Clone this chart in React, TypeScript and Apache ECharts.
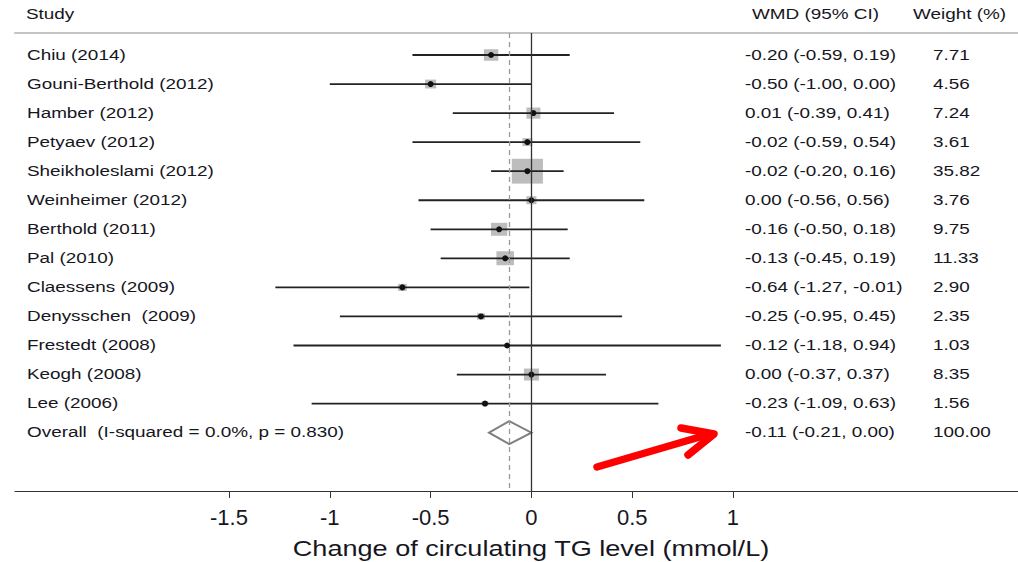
import React, { useEffect, useRef } from "react";
import * as echarts from "echarts";

// Study-level weighted mean differences (mmol/L) with 95% CI and weights
const studies = [
  "Chiu (2014)",
  "Gouni-Berthold (2012)",
  "Hamber (2012)",
  "Petyaev (2012)",
  "Sheikholeslami (2012)",
  "Weinheimer (2012)",
  "Berthold (2011)",
  "Pal (2010)",
  "Claessens (2009)",
  "Denysschen  (2009)",
  "Frestedt (2008)",
  "Keogh (2008)",
  "Lee (2006)",
];
const wmd = [-0.2, -0.5, 0.01, -0.02, -0.02, 0.0, -0.16, -0.13, -0.64, -0.25, -0.12, 0.0, -0.23];
const lower = [-0.59, -1.0, -0.39, -0.59, -0.2, -0.56, -0.5, -0.45, -1.27, -0.95, -1.18, -0.37, -1.09];
const upper = [0.19, 0.0, 0.41, 0.54, 0.16, 0.56, 0.18, 0.19, -0.01, 0.45, 0.94, 0.37, 0.63];
const weights = [7.71, 4.56, 7.24, 3.61, 35.82, 3.76, 9.75, 11.33, 2.9, 2.35, 1.03, 8.35, 1.56];

// Pooled estimate
const overallLabel = "Overall  (I-squared = 0.0%, p = 0.830)";
const overallWmd = -0.11;
const overallLower = -0.21;
const overallUpper = 0.0;
const overallWeight = 100.0;

const tickValues = [-1.5, -1, -0.5, 0, 0.5, 1];
const axisTitle = "Change of circulating TG level (mmol/L)";

const FONT = "'Liberation Sans', Arial, Helvetica, sans-serif";
const TEXT = "#16161e";
const STRETCH = 1.26;

const fmt = (v: number) => v.toFixed(2);

export default function App() {
  const ref = useRef<HTMLDivElement>(null);

  useEffect(() => {
    if (!ref.current) return;
    const chart = echarts.init(ref.current, undefined, { renderer: "svg" });

    const rows = studies.map((s, i) => [i, wmd[i], lower[i], upper[i], weights[i]]);
    const overallIdx = studies.length;

    const textRows = studies.map((s, i) => ({
      value: [i],
      name: s,
      ci: `${fmt(wmd[i])} (${fmt(lower[i])}, ${fmt(upper[i])})`,
      w: fmt(weights[i]),
    }));
    textRows.push({
      value: [overallIdx],
      name: overallLabel,
      ci: `${fmt(overallWmd)} (${fmt(overallLower)}, ${fmt(overallUpper)})`,
      w: fmt(overallWeight),
    });

    const txt = (text: string, x: number, y: number, size = 15, align = "left") => ({
      type: "text",
      x,
      y,
      scaleX: STRETCH,
      style: {
        text,
        x: 0,
        y: 0,
        fill: TEXT,
        fontSize: size,
        fontFamily: FONT,
        align,
        verticalAlign: "middle",
      },
    });

    chart.setOption({
      animation: false,
      backgroundColor: "#ffffff",
      grid: { left: 15, right: 0, top: 33, bottom: 71 },
      xAxis: [
        {
          type: "value",
          min: -2.5615,
          max: 2.4137,
          position: "bottom",
          splitLine: { show: false },
          axisLine: { show: true, onZero: false, lineStyle: { color: "#333", width: 1 } },
          axisTick: {
            show: true,
            customValues: tickValues,
            length: 7,
            lineStyle: { color: "#333", width: 1 },
          },
          axisLabel: {
            customValues: tickValues,
            margin: 15,
            fontSize: 22,
            fontFamily: FONT,
            color: TEXT,
            formatter: (v: number) => String(v),
          },
        },
        {
          type: "value",
          min: -2.5615,
          max: 2.4137,
          position: "top",
          splitLine: { show: false },
          axisLine: { show: true, onZero: false, lineStyle: { color: "#c4c4c4", width: 2 } },
          axisTick: { show: false },
          axisLabel: { show: false },
        },
      ],
      yAxis: {
        type: "value",
        min: -0.757,
        max: 15.009,
        inverse: true,
        show: false,
      },
      series: [
        {
          type: "custom",
          name: "studies",
          xAxisIndex: 0,
          data: rows,
          z: 3,
          renderItem: (params: any, api: any) => {
            const i = api.value(0);
            const est = api.value(1);
            const lo = api.value(2);
            const hi = api.value(3);
            const w = api.value(4);
            const [cx, cy] = api.coord([est, i]);
            const x0 = api.coord([lo, i])[0];
            const x1 = api.coord([hi, i])[0];
            const bw = 5.2 * Math.sqrt(w);
            const bh = 4.15 * Math.sqrt(w);
            return {
              type: "group",
              children: [
                {
                  type: "rect",
                  shape: { x: cx - bw / 2, y: cy - bh / 2, width: bw, height: bh },
                  style: { fill: "#bdbdbd" },
                },
                {
                  type: "line",
                  shape: { x1: x0, y1: cy, x2: x1, y2: cy },
                  style: { stroke: "#222", lineWidth: 1.8 },
                },
                {
                  type: "circle",
                  shape: { cx, cy, r: 3 },
                  style: { fill: "#111" },
                },
              ],
            };
          },
          markLine: {
            silent: true,
            symbol: "none",
            label: { show: false },
            data: [
              { xAxis: 0, lineStyle: { color: "#333", width: 1.3, type: "solid" } },
              { xAxis: overallWmd, lineStyle: { color: "#9a9a9a", width: 1.3, type: [5, 4] } },
            ],
          },
        },
        {
          type: "custom",
          name: "overall",
          data: [[overallIdx, overallWmd, overallLower, overallUpper]],
          z: 4,
          renderItem: (params: any, api: any) => {
            const i = api.value(0);
            const [cx, cy] = api.coord([api.value(1), i]);
            const x0 = api.coord([api.value(2), i])[0];
            const x1 = api.coord([api.value(3), i])[0];
            const h = 11.5;
            return {
              type: "polygon",
              shape: {
                points: [
                  [x0, cy],
                  [cx, cy - h],
                  [x1, cy],
                  [cx, cy + h],
                ],
              },
              style: { fill: "#ffffff", stroke: "#808080", lineWidth: 2 },
            };
          },
        },
        {
          type: "custom",
          name: "labels",
          data: textRows,
          z: 5,
          renderItem: (params: any, api: any) => {
            const row = textRows[params.dataIndex];
            const cy = api.coord([0, api.value(0)])[1];
            return {
              type: "group",
              children: [txt(row.name, 27, cy), txt(row.ci, 745, cy), txt(row.w, 933, cy)],
            };
          },
        },
      ],
      graphic: [
        txt("Study", 26, 14),
        txt("WMD (95% CI)", 752, 14),
        txt("Weight (%)", 913, 14),
        { ...txt(axisTitle, 531, 549, 21.5, "center") },
        {
          type: "group",
          children: [
            {
              type: "line",
              shape: { x1: 597, y1: 467, x2: 710, y2: 434 },
              style: { stroke: "#ff0000", lineWidth: 7.5, lineCap: "round" },
            },
            {
              type: "polyline",
              shape: {
                points: [
                  [681, 428],
                  [714, 434],
                  [688, 455],
                ],
              },
              style: {
                stroke: "#ff0000",
                lineWidth: 7.5,
                lineCap: "round",
                lineJoin: "round",
                fill: "none",
              },
            },
          ],
        },
      ],
    });

    return () => chart.dispose();
  }, []);

  return (
    <div
      ref={ref}
      style={{ position: "absolute", left: 0, top: 0, width: 1018, height: 562, background: "#fff" }}
    />
  );
}
